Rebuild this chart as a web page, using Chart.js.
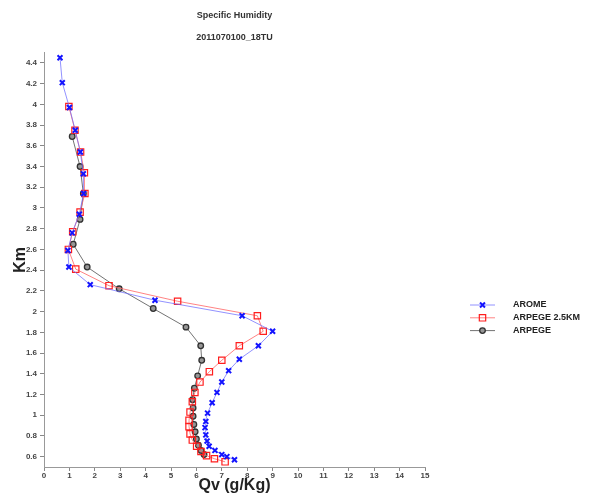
<!DOCTYPE html>
<html>
<head>
<meta charset="utf-8">
<script src="https://cdn.jsdelivr.net/npm/chart.js@4.4.0/dist/chart.umd.min.js"></script>
<style>
  html, body { margin: 0; padding: 0; background: #fff; }
  #wrap { width: 592px; height: 493px; }
</style>
</head>
<body>
<div id="wrap"><canvas id="humidity_profile_chart"></canvas></div>
<script>
// data (Qv in g/Kg, height in Km)
const seriesLabels = ['AROME', 'ARPEGE 2.5KM', 'ARPEGE'];

const aromeQv = [7.5, 7.2, 7.0, 6.73, 6.5, 6.42, 6.37, 6.34, 6.37, 6.44, 6.62, 6.81, 7.0, 7.27, 7.69, 8.44, 9.0, 7.8, 4.37, 1.82, 0.98, 0.94, 1.11, 1.39, 1.56, 1.55, 1.43, 1.23, 1.0, 0.72, 0.63];
const aromeKm = [0.57, 0.6, 0.62, 0.66, 0.7, 0.75, 0.81, 0.88, 0.94, 1.02, 1.12, 1.22, 1.32, 1.43, 1.54, 1.67, 1.81, 1.96, 2.11, 2.26, 2.43, 2.59, 2.76, 2.94, 3.14, 3.33, 3.54, 3.75, 3.97, 4.21, 4.45];

const arpege25Qv = [7.13, 6.71, 6.4, 6.18, 6.01, 5.84, 5.75, 5.71, 5.71, 5.75, 5.84, 5.94, 6.14, 6.51, 7.0, 7.69, 8.63, 8.4, 5.26, 2.56, 1.25, 0.96, 1.13, 1.42, 1.61, 1.59, 1.44, 1.22, 0.98];
const arpege25Km = [0.55, 0.58, 0.61, 0.65, 0.7, 0.76, 0.82, 0.89, 0.95, 1.03, 1.13, 1.22, 1.32, 1.42, 1.53, 1.67, 1.81, 1.96, 2.1, 2.25, 2.41, 2.6, 2.77, 2.96, 3.14, 3.34, 3.54, 3.75, 3.98];

const arpegeQv = [6.3, 6.18, 6.08, 6.0, 5.95, 5.9, 5.87, 5.87, 5.85, 5.92, 6.05, 6.21, 6.17, 5.59, 4.3, 2.96, 1.7, 1.15, 1.42, 1.55, 1.42, 1.11];
const arpegeKm = [0.62, 0.66, 0.71, 0.77, 0.84, 0.91, 0.99, 1.07, 1.15, 1.26, 1.38, 1.53, 1.67, 1.85, 2.03, 2.22, 2.43, 2.65, 2.89, 3.14, 3.4, 3.69];

const xTicks = [0, 1, 2, 3, 4, 5, 6, 7, 8, 9, 10, 11, 12, 13, 14, 15];
const yTicks = [0.6, 0.8, 1, 1.2, 1.4, 1.6, 1.8, 2, 2.2, 2.4, 2.6, 2.8, 3, 3.2, 3.4, 3.6, 3.8, 4, 4.2, 4.4];

document.addEventListener("DOMContentLoaded", function () {
	humidity_profile_chart();
});

function toPoints(xs, ys) {
	return xs.map(function (v, i) { return { x: v, y: ys[i] }; });
}

// legend drawn at the right side, outside the plot
const sideLegend = {
	id: 'sideLegend',
	afterDraw: function (chart) {
		const ctx = chart.ctx;
		chart.data.datasets.forEach(function (ds, i) {
			const y = 305 + i * 12.8;
			ctx.save();
			ctx.strokeStyle = ds.borderColor;
			ctx.lineWidth = 1;
			ctx.beginPath();
			ctx.moveTo(470, y);
			ctx.lineTo(495, y);
			ctx.stroke();
			ctx.strokeStyle = ds.pointBorderColor;
			ctx.fillStyle = ds.pointBackgroundColor;
			ctx.lineWidth = ds.pointBorderWidth;
			Chart.helpers.drawPoint(ctx, {
				pointStyle: ds.pointStyle,
				radius: ds.pointRadius,
				borderWidth: ds.pointBorderWidth,
				rotation: 0
			}, 482.5, y);
			ctx.fillStyle = '#222';
			ctx.font = 'bold 9px "Liberation Sans", Arial, sans-serif';
			ctx.textBaseline = 'middle';
			ctx.fillText(ds.label, 513, y);
			ctx.restore();
		});
	}
};

function humidity_profile_chart() {
	const data = {
		datasets: [{
			label: seriesLabels[0],
			data: toPoints(aromeQv, aromeKm),
			showLine: true,
			borderColor: 'rgba(110, 110, 255, 0.75)',
			borderWidth: 1,
			pointStyle: 'crossRot',
			pointRadius: 3.5,
			pointBorderWidth: 2,
			pointBorderColor: 'rgb(20, 20, 255)',
			pointBackgroundColor: 'rgb(20, 20, 255)'
		}, {
			label: seriesLabels[1],
			data: toPoints(arpege25Qv, arpege25Km),
			showLine: true,
			borderColor: 'rgba(255, 90, 90, 0.75)',
			borderWidth: 1,
			pointStyle: 'rect',
			pointRadius: 4.5,
			pointBorderWidth: 1.2,
			pointBorderColor: 'rgb(255, 30, 30)',
			pointBackgroundColor: 'rgba(255, 255, 255, 0)'
		}, {
			label: seriesLabels[2],
			data: toPoints(arpegeQv, arpegeKm),
			showLine: true,
			borderColor: 'rgba(90, 90, 90, 0.85)',
			borderWidth: 1,
			pointStyle: 'circle',
			pointRadius: 2.8,
			pointBorderWidth: 1.3,
			pointBorderColor: 'rgb(50, 50, 50)',
			pointBackgroundColor: 'rgb(150, 150, 150)'
		}]
	};

	const tickFont = { family: '"Liberation Sans", Arial, sans-serif', size: 8, weight: 'bold' };

	const options = {
		responsive: true,
		maintainAspectRatio: false,
		animation: false,
		layout: { padding: { left: 9, right: 167, top: 1, bottom: 0 } },
		plugins: {
			legend: { display: false },
			tooltip: { enabled: false },
			title: {
				display: true,
				text: 'Specific Humidity',
				fullSize: false,
				color: '#333',
				font: { family: '"Liberation Sans", Arial, sans-serif', size: 9, weight: 'bold' },
				padding: { top: 9, bottom: 0 }
			},
			subtitle: {
				display: true,
				text: '2011070100_18TU',
				fullSize: false,
				color: '#333',
				font: { family: '"Liberation Sans", Arial, sans-serif', size: 9, weight: 'bold' },
				padding: { top: 11, bottom: 10 }
			}
		},
		scales: {
			x: {
				type: 'linear',
				min: 0,
				max: 15,
				afterBuildTicks: function (scale) {
					scale.ticks = xTicks.map(function (v) { return { value: v }; });
				},
				afterFit: function (scale) { scale.height = 26; },
				grid: { drawOnChartArea: false, drawTicks: true, tickLength: 4, color: '#888' },
				border: { display: true, color: '#999', width: 1 },
				ticks: { color: '#444', font: tickFont, padding: 0, maxRotation: 0, autoSkip: false },
				title: {
					display: true,
					text: 'Qv (g/Kg)',
					color: '#222',
					font: { family: '"Liberation Sans", Arial, sans-serif', size: 16, weight: 'bold', lineHeight: 1 },
					padding: { top: 0, bottom: -1 }
				}
			},
			y: {
				type: 'linear',
				min: 0.5,
				max: 4.5,
				afterBuildTicks: function (scale) {
					scale.ticks = yTicks.map(function (v) { return { value: v }; });
				},
				afterFit: function (scale) { scale.width = 35; },
				grid: { drawOnChartArea: false, drawTicks: true, tickLength: 4, color: '#888' },
				border: { display: true, color: '#999', width: 1 },
				ticks: {
					color: '#444',
					font: tickFont,
					padding: 3,
					autoSkip: false,
					callback: function (v) { return String(+v.toFixed(1)); }
				},
				title: {
					display: true,
					text: 'Km',
					color: '#222',
					font: { family: '"Liberation Sans", Arial, sans-serif', size: 16, weight: 'bold' },
					padding: { top: 2, bottom: 2 }
				}
			}
		}
	};

	const ctx = document.getElementById('humidity_profile_chart').getContext('2d');

	new Chart(ctx, {
		type: 'scatter',
		data: data,
		options: options,
		plugins: [sideLegend]
	});
}
</script>
</body>
</html>
